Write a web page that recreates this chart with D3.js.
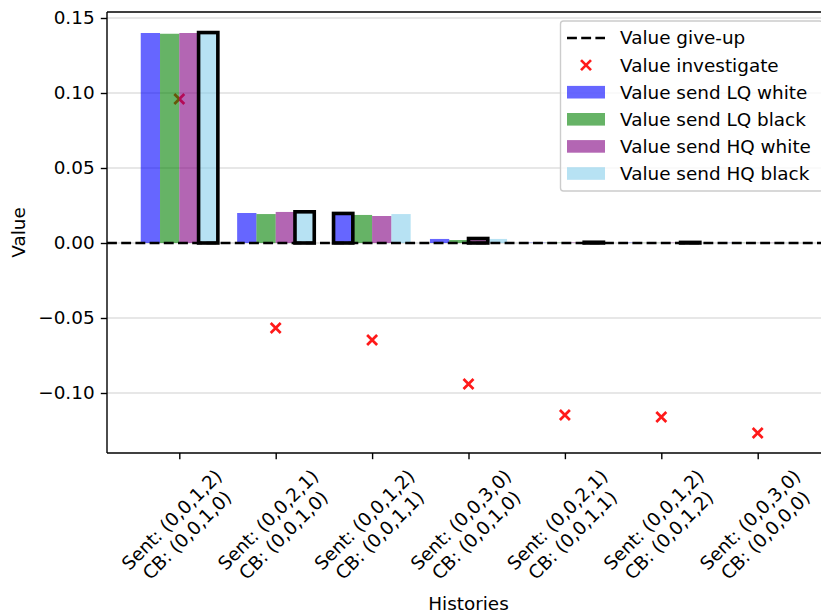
<!DOCTYPE html>
<html>
<head>
<meta charset="utf-8">
<script src="https://cdn.jsdelivr.net/npm/d3@7"></script>
<style>
  html, body { margin: 0; padding: 0; background: #fff; }
  svg { display: block; font-family: "DejaVu Sans", sans-serif; }
</style>
</head>
<body>
<svg id="chart" width="821" height="614"></svg>
<script>
// ---- data ----
const sentLabels = ["(0,0,1,2)", "(0,0,2,1)", "(0,0,1,2)", "(0,0,3,0)", "(0,0,2,1)", "(0,0,1,2)", "(0,0,3,0)"];
const cbLabels   = ["(0,0,1,0)", "(0,0,1,0)", "(0,0,1,1)", "(0,0,1,0)", "(0,0,1,1)", "(0,0,1,2)", "(0,0,0,0)"];
const giveUp      = [0, 0, 0, 0, 0, 0, 0];
const investigate = [0.096, -0.0567, -0.0647, -0.094, -0.1147, -0.116, -0.1267];
const lqWhite = [0.1400, 0.0200, 0.0197, 0.0027, 0.0002, 0.0002, 0.0001];
const lqBlack = [0.1395, 0.0193, 0.0187, 0.0020, 0.0002, 0.0001, 0.0001];
const hqWhite = [0.1400, 0.0207, 0.0180, 0.0030, 0.0003, 0.0002, 0.0001];
const hqBlack = [0.1403, 0.0208, 0.0193, 0.0027, 0.0005, 0.0004, 0.0001];
const bestAction = [3, 3, 0, 2, 3, 3, -1];   // index of highlighted (best) bar, -1 = none
const yTicks = [-0.10, -0.05, 0.00, 0.05, 0.10, 0.15];
const seriesNames = ["Value send LQ white", "Value send LQ black", "Value send HQ white", "Value send HQ black"];
const seriesColors = ["blue", "green", "purple", "skyblue"];
const seriesValues = [lqWhite, lqBlack, hqWhite, hqBlack];

// ---- layout ----
const svg = d3.select("#chart");
const L = 107, R = 830, T = 12, B = 453;
const FS = 18.4;
const x = d3.scaleLinear().domain([-0.75, 6.75]).range([L, R]);
const y = d3.scaleLinear().domain([-0.14, 0.154]).range([B, T]);
const barW = 0.2;
const offsets = [-0.3, -0.1, 0.1, 0.3];

// grid
svg.append("g").selectAll("line").data(yTicks).join("line")
  .attr("x1", L).attr("x2", R)
  .attr("y1", d => y(d)).attr("y2", d => y(d))
  .attr("stroke", "#b0b0b0").attr("stroke-opacity", 0.4).attr("stroke-width", 1.4);

// investigate markers (under bars)
const mk = 5;
const xMark = (g, cx, cy) => {
  g.append("path")
    .attr("d", `M${cx - mk},${cy - mk}L${cx + mk},${cy + mk}M${cx - mk},${cy + mk}L${cx + mk},${cy - mk}`)
    .attr("stroke", "red").attr("stroke-opacity", 0.9).attr("stroke-width", 2.7).attr("fill", "none");
};
const mg = svg.append("g");
investigate.forEach((v, i) => xMark(mg, x(i), y(v)));

// bars
const bg = svg.append("g");
seriesValues.forEach((vals, s) => {
  bg.append("g").selectAll("rect").data(vals).join("rect")
    .attr("x", (d, i) => x(i + offsets[s] - barW / 2))
    .attr("width", x(barW) - x(0))
    .attr("y", d => Math.min(y(d), y(0)))
    .attr("height", d => Math.abs(y(d) - y(0)))
    .attr("fill", seriesColors[s]).attr("fill-opacity", 0.6);
});
// highlighted best bars
bg.append("g").selectAll("rect").data(bestAction.map((b, i) => ({b, i})).filter(d => d.b >= 0)).join("rect")
  .attr("x", d => x(d.i + offsets[d.b] - barW / 2))
  .attr("width", x(barW) - x(0))
  .attr("y", d => Math.min(y(seriesValues[d.b][d.i]), y(0)))
  .attr("height", d => Math.abs(y(seriesValues[d.b][d.i]) - y(0)))
  .attr("fill", "none").attr("stroke", "black").attr("stroke-width", 3.6);

// give-up dashed line
const line = d3.line().x(d => d[0]).y(d => y(d[1]));
svg.append("path")
  .attr("d", line([[L, giveUp[0]], [R, giveUp[giveUp.length - 1]]]))
  .attr("stroke", "black").attr("stroke-width", 2.67).attr("stroke-dasharray", "9.9,4.3").attr("fill", "none");

// spines
svg.append("line").attr("x1", L).attr("x2", L).attr("y1", T).attr("y2", B).attr("stroke", "black").attr("stroke-width", 1.4);
svg.append("line").attr("x1", L).attr("x2", R).attr("y1", B).attr("y2", B).attr("stroke", "black").attr("stroke-width", 1.4);
svg.append("line").attr("x1", L).attr("x2", R).attr("y1", T).attr("y2", T).attr("stroke", "black").attr("stroke-width", 1.4);
svg.append("line").attr("x1", R).attr("x2", R).attr("y1", T).attr("y2", B).attr("stroke", "black").attr("stroke-width", 1.4);

// y axis
const fmt = d => (d < 0 ? "\u2212" : "") + Math.abs(d).toFixed(2);
const yAxis = d3.axisLeft(y).tickValues(yTicks).tickFormat(fmt).tickSize(6.2).tickPadding(6.2);
const ya = svg.append("g").attr("transform", `translate(${L},0)`).call(yAxis);
ya.select(".domain").remove();
ya.selectAll("line").attr("stroke", "black").attr("stroke-width", 1.4);
ya.selectAll("text").attr("font-size", FS).attr("font-family", "DejaVu Sans").attr("fill", "black");

// x axis ticks
const xAxis = d3.axisBottom(x).tickValues(d3.range(sentLabels.length)).tickFormat("").tickSize(6.2);
const xa = svg.append("g").attr("transform", `translate(0,${B})`).call(xAxis);
xa.select(".domain").remove();
xa.selectAll("line").attr("stroke", "black").attr("stroke-width", 1.4);

// x tick labels, rotated 45, centered on tick, top aligned
const lg = svg.append("g");
sentLabels.forEach((s, i) => {
  const g = lg.append("g").attr("transform", `translate(${x(i)},520) rotate(-45)`);
  const t = g.append("text").attr("text-anchor", "middle").attr("font-size", FS).attr("fill", "black");
  t.append("tspan").attr("x", 0).attr("y", 0).text("Sent: " + s);
  t.append("tspan").attr("x", 0).attr("y", 21.6).text("CB: " + cbLabels[i]);
  const bb = g.node().getBoundingClientRect();
  const dx = x(i) - (bb.left + bb.right) / 2;
  const dy = 465.5 - bb.top;
  g.attr("transform", `translate(${x(i) + dx},${520 + dy}) rotate(-45)`);
});

// axis titles
svg.append("text").attr("x", (L + R) / 2).attr("y", 610).attr("text-anchor", "middle")
  .attr("font-size", FS).text("Histories");
svg.append("text").attr("transform", `translate(25,${(T + B) / 2}) rotate(-90)`).attr("text-anchor", "middle")
  .attr("font-size", FS).text("Value");

// legend
const leg = svg.append("g");
leg.append("rect").attr("x", 560.5).attr("y", 21).attr("width", 262).attr("height", 170).attr("rx", 3)
  .attr("fill", "white").attr("fill-opacity", 0.8).attr("stroke", "#cccccc").attr("stroke-width", 1.4);
const rowY = i => 38 + i * 27.1;
const hx0 = 567, hx1 = 605, tx = 620;
leg.append("line").attr("x1", hx0).attr("x2", hx1).attr("y1", rowY(0)).attr("y2", rowY(0))
  .attr("stroke", "black").attr("stroke-width", 2.67).attr("stroke-dasharray", "9.9,4.3");
xMark(leg, (hx0 + hx1) / 2, rowY(1));
seriesNames.forEach((n, s) => {
  leg.append("rect").attr("x", hx0).attr("y", rowY(s + 2) - 6.3).attr("width", hx1 - hx0).attr("height", 12.6)
    .attr("fill", seriesColors[s]).attr("fill-opacity", 0.6);
});
const legLabels = ["Value give-up", "Value investigate"].concat(seriesNames);
legLabels.forEach((n, i) => {
  leg.append("text").attr("x", tx).attr("y", rowY(i)).attr("dy", "0.35em").attr("font-size", FS).text(n);
});
</script>
</body>
</html>
